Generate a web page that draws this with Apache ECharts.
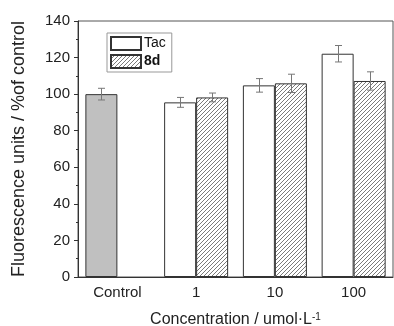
<!DOCTYPE html>
<html><head><meta charset="utf-8">
<script src="https://cdn.jsdelivr.net/npm/echarts@6/dist/echarts.min.js"></script>
<style>html,body{margin:0;padding:0;background:#fff}#c{width:394px;height:326px}</style>
</head><body><div id="c"></div>
<script>
var categories = ['Control', '1', '10', '100'];
var tacValues = [100, 95.5, 104.8, 122.1];
var tacErrors = [3.2, 2.7, 3.7, 4.5];
var d8Values = [null, 98.2, 105.9, 107.2];
var d8Errors = [null, 2.4, 5.0, 5.0];
var yTicks = [0, 20, 40, 60, 80, 100, 120, 140];

var FONT = 'Liberation Sans, Arial, sans-serif';
var BAR_W = 32;

// hatch pattern
var pc = document.createElement('canvas');
pc.width = 4; pc.height = 4;
var px = pc.getContext('2d');
px.fillStyle = '#fff'; px.fillRect(0, 0, 4, 4);
px.fillStyle = '#7a7a7a';
for (var i = 0; i < 4; i++) { px.fillRect(i, 3 - i, 1, 1); }

var chart = echarts.init(document.getElementById('c'), null, {renderer: 'canvas'});

function errSeries(values, errors, offset) {
  var data = [];
  values.forEach(function (v, i) { if (v != null) data.push([i, v, errors[i]]); });
  return {
    type: 'custom', z: 5, silent: true,
    data: data,
    renderItem: function (params, api) {
      var c = api.value(0), v = api.value(1), e = api.value(2);
      var hi = api.coord([c, v + e]), lo = api.coord([c, v - e]);
      var x = Math.round(hi[0] + offset) + 0.5;
      var st = {stroke: '#777', lineWidth: 1};
      return {type: 'group', children: [
        {type: 'line', shape: {x1: x, y1: hi[1], x2: x, y2: lo[1]}, style: st},
        {type: 'line', shape: {x1: x - 3.5, y1: hi[1], x2: x + 3.5, y2: hi[1]}, style: st},
        {type: 'line', shape: {x1: x - 3.5, y1: lo[1], x2: x + 3.5, y2: lo[1]}, style: st}
      ]};
    }
  };
}

var tacData = tacValues.map(function (v, i) {
  return i === 0 ? {value: v, itemStyle: {color: '#c0c0c0'}} : v;
});
var d8Data = d8Values.map(function (v) { return v == null ? '-' : v; });

chart.setOption({
  animation: false,
  textStyle: {fontFamily: FONT},
  grid: {left: 78, right: 1, top: 21, bottom: 49, containLabel: false, outerBoundsMode: 'none',
         show: true, borderColor: '#555', borderWidth: 1},
  legend: {
    orient: 'vertical', left: 107, top: 33,
    icon: 'rect',
    itemWidth: 30, itemHeight: 13, itemGap: 3,
    padding: [3, 6, 3, 3],
    borderColor: '#999', borderWidth: 1,
    textStyle: {fontSize: 14, color: '#111', fontFamily: FONT, padding: [0, 0, 0, -2]},
    data: [{name: 'Tac'}, {name: '8d', textStyle: {fontWeight: 'bold'}}]
  },
  xAxis: [{
    type: 'category', data: categories,
    axisLine: {lineStyle: {color: '#333'}},
    axisTick: {alignWithLabel: true, length: 4, lineStyle: {color: '#333'}},
    axisLabel: {fontSize: 15, color: '#222', margin: 8, fontFamily: FONT},
    name: '{a|Concentration / umol·L}{s|-1}',
    nameLocation: 'middle', nameGap: 35,
    nameTextStyle: {
      rich: {
        a: {fontSize: 16, color: '#222', fontFamily: FONT},
        s: {fontSize: 10, color: '#222', fontFamily: FONT, verticalAlign: 'top', padding: [0, 0, 6, 0]}
      }
    }
  }, {
    type: 'category', data: categories, position: 'bottom',
    axisLine: {show: false},
    axisTick: {length: 2, lineStyle: {color: '#333'}},
    axisLabel: {show: false}
  }],
  yAxis: {
    type: 'value', min: yTicks[0], max: yTicks[yTicks.length - 1], interval: 20,
    axisLine: {show: true, lineStyle: {color: '#333'}},
    axisTick: {show: true, length: 4, lineStyle: {color: '#333'}},
    minorTick: {show: true, splitNumber: 2, length: 2, lineStyle: {color: '#333'}},
    splitLine: {show: false},
    axisLabel: {fontSize: 15, color: '#222', margin: 8, fontFamily: FONT},
    name: 'Fluorescence units / %of control',
    nameLocation: 'middle', nameGap: 50,
    nameTextStyle: {fontSize: 18, color: '#222', fontFamily: FONT}
  },
  series: [{
    name: 'Tac', type: 'bar', barWidth: BAR_W, barGap: '0%',
    data: tacData,
    itemStyle: {color: '#fff', borderColor: '#333', borderWidth: 1}
  }, {
    name: '8d', type: 'bar', barWidth: BAR_W, barGap: '0%',
    data: d8Data,
    itemStyle: {color: {image: pc, repeat: 'repeat'}, borderColor: '#333', borderWidth: 1}
  },
  errSeries(tacValues, tacErrors, -BAR_W / 2),
  errSeries(d8Values, d8Errors, BAR_W / 2)
  ]
});
</script></body></html>
